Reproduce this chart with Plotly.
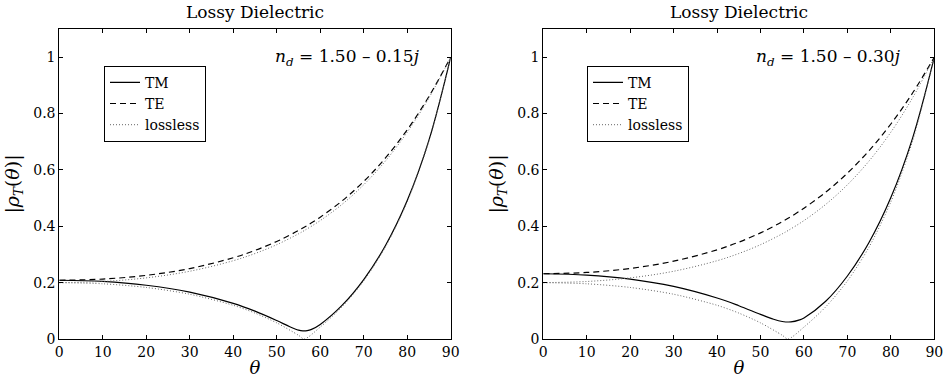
import plotly.graph_objects as go

# ---------------- data ----------------
theta_lossless = [0, 10, 20, 30, 40, 45, 50, 55, 56.31, 60, 65, 70, 75, 80, 85, 90]
te_lossless = [0.2000, 0.2041, 0.2170, 0.2404, 0.2778, 0.3033, 0.3347, 0.3732, 0.3846,
               0.4202, 0.4776, 0.5473, 0.6319, 0.7339, 0.8558, 1.0]
tm_lossless = [0.2000, 0.1959, 0.1829, 0.1589, 0.1196, 0.0920, 0.0573, 0.0133, 0.0,
               0.0424, 0.1139, 0.2061, 0.3267, 0.4866, 0.7023, 1.0]

# panel 1: n_d = 1.50 - 0.15j
theta_a = [0, 10, 20, 30, 40, 45, 50, 53, 55, 56, 57, 58, 60, 65, 70, 75, 80, 85, 90]
te_a = [0.2084, 0.2127, 0.2259, 0.2500, 0.2883, 0.3143, 0.3462, 0.3686, 0.3851, 0.3938,
        0.4029, 0.4124, 0.4324, 0.4897, 0.5590, 0.6425, 0.7423, 0.8607, 1.0]
tm_a = [0.2084, 0.2042, 0.1908, 0.1662, 0.1263, 0.0988, 0.0654, 0.0436, 0.0316, 0.0287,
        0.0294, 0.0340, 0.0517, 0.1191, 0.2110, 0.3316, 0.4911, 0.7055, 1.0]

# panel 2: n_d = 1.50 - 0.30j
theta_b = [0, 10, 20, 30, 40, 45, 50, 53, 55, 57, 59, 60, 65, 70, 75, 80, 85, 90]
te_b = [0.2316, 0.2361, 0.2504, 0.2761, 0.3164, 0.3437, 0.3766, 0.3996, 0.4163, 0.4344,
        0.4538, 0.4640, 0.5209, 0.5886, 0.6687, 0.7629, 0.8728, 1.0]
tm_b = [0.2316, 0.2270, 0.2127, 0.1866, 0.1454, 0.1181, 0.0874, 0.0701, 0.0622, 0.0606,
        0.0678, 0.0747, 0.1339, 0.2236, 0.3436, 0.5020, 0.7129, 1.0]

panel_titles = ["Lossy Dielectric", "Lossy Dielectric"]
nd_labels = ["<i>n</i><sub><i>d</i></sub> = 1.50 \u2013 0.15<i>j</i>",
             "<i>n</i><sub><i>d</i></sub> = 1.50 \u2013 0.30<i>j</i>"]
x_ticks = [0, 10, 20, 30, 40, 50, 60, 70, 80, 90]
y_ticks = [0, 0.2, 0.4, 0.6, 0.8, 1]
series_names = ["TM", "TE", "lossless"]

FONT = "DejaVu Serif, Liberation Serif, serif"
fig = go.Figure()

panels = [
    (theta_a, tm_a, te_a, "x", "y", "legend"),
    (theta_b, tm_b, te_b, "x2", "y2", "legend2"),
]
for th, tm, te, xa, ya, lg in panels:
    fig.add_trace(go.Scatter(x=th, y=tm, mode="lines", name=series_names[0],
                             line=dict(color="black", width=1.2, shape="spline", smoothing=1.0),
                             xaxis=xa, yaxis=ya, legend=lg))
    fig.add_trace(go.Scatter(x=th, y=te, mode="lines", name=series_names[1],
                             line=dict(color="black", width=1.2, dash="6px,4px",
                                       shape="spline", smoothing=1.0),
                             xaxis=xa, yaxis=ya, legend=lg))
    fig.add_trace(go.Scatter(x=theta_lossless, y=te_lossless, mode="lines", name=series_names[2],
                             line=dict(color="#666666", width=1, dash="1px,2px",
                                       shape="spline", smoothing=1.0),
                             xaxis=xa, yaxis=ya, legend=lg))
    fig.add_trace(go.Scatter(x=theta_lossless, y=tm_lossless, mode="lines", name=series_names[2],
                             line=dict(color="#666666", width=1, dash="1px,2px",
                                       shape="spline", smoothing=0.8),
                             xaxis=xa, yaxis=ya, legend=lg, showlegend=False))

W, H = 943, 384
dom_y = [45 / H, 355 / H]
dom_x1 = [59.3 / W, 450.7 / W]
dom_x2 = [543.3 / W, 934.3 / W]

axis_common = dict(showgrid=False, zeroline=False, showline=True, linecolor="black",
                   linewidth=1, mirror="ticks", ticks="inside", ticklen=4,
                   tickcolor="black", tickwidth=1, ticklabeloverflow="allow",
                   tickfont=dict(family=FONT, size=14, color="black"))

xtitle = dict(text="<i>\u03b8</i>", font=dict(family=FONT, size=18, color="black"), standoff=2)
ytitle = dict(text="|<i>\u03c1</i><sub><i>T</i></sub>(<i>\u03b8</i>)|",
              font=dict(family=FONT, size=19, color="black"), standoff=8)

fig.update_layout(
    autosize=True,
    margin=dict(l=0, r=0, t=0, b=0, autoexpand=False),
    paper_bgcolor="white", plot_bgcolor="white",
    font=dict(family=FONT, color="black"),
    xaxis=dict(domain=dom_x1, range=[0, 90], tickvals=x_ticks, anchor="y",
               title=xtitle, **axis_common),
    yaxis=dict(domain=dom_y, range=[0, 1.1], tickvals=y_ticks, anchor="x",
               title=ytitle, **axis_common),
    xaxis2=dict(domain=dom_x2, range=[0, 90], tickvals=x_ticks, anchor="y2",
                title=xtitle, **axis_common),
    yaxis2=dict(domain=dom_y, range=[0, 1.1], tickvals=y_ticks, anchor="x2",
                title=ytitle, **axis_common),
    legend=dict(x=104 / W, y=1 - 65.7 / H, xanchor="left", yanchor="top",
                bordercolor="black", borderwidth=1, bgcolor="white",
                font=dict(family=FONT, size=14, color="black"), tracegroupgap=0),
    legend2=dict(x=587 / W, y=1 - 65.7 / H, xanchor="left", yanchor="top",
                 bordercolor="black", borderwidth=1, bgcolor="white",
                 font=dict(family=FONT, size=14, color="black"), tracegroupgap=0),
    showlegend=True,
)

# panel titles
for xd, t in zip([dom_x1, dom_x2], panel_titles):
    fig.add_annotation(text=t, xref="paper", yref="paper", x=(xd[0] + xd[1]) / 2,
                       y=1 - 12 / H, xanchor="center", yanchor="middle", showarrow=False,
                       font=dict(family=FONT, size=17, color="black"))

# refractive index labels
fig.add_annotation(text=nd_labels[0], xref="x", yref="y", x=83.4, y=1.0,
                   xanchor="right", yanchor="middle", showarrow=False,
                   font=dict(family=FONT, size=17, color="black"))
fig.add_annotation(text=nd_labels[1], xref="x2", yref="y2", x=82.8, y=1.0,
                   xanchor="right", yanchor="middle", showarrow=False,
                   font=dict(family=FONT, size=17, color="black"))

fig.write_html(
    "out.html",
    default_width="100vw",
    default_height="100vh",
    config={"displayModeBar": False, "responsive": True},
    post_script=(
        "document.documentElement.style.margin='0';"
        "document.documentElement.style.overflow='hidden';"
        "document.body.style.margin='0';"
        "document.body.style.overflow='hidden';"
        "window.dispatchEvent(new Event('resize'));"
    ),
)
